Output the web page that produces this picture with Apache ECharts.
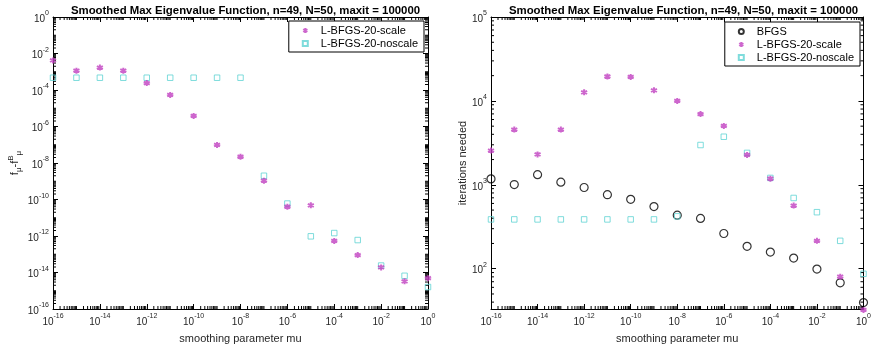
<!DOCTYPE html>
<html>
<head>
<meta charset="utf-8">
<script src="https://cdn.jsdelivr.net/npm/echarts@6/dist/echarts.min.js"></script>
<style>
html,body{margin:0;padding:0;background:#fff;}
#chart{width:874px;height:349px;}
</style>
</head>
<body>
<div id="chart"></div>
<script>
// ---- data ----
const mu = [1e-16,1e-15,1e-14,1e-13,1e-12,1e-11,1e-10,1e-9,1e-8,1e-7,1e-6,1e-5,1e-4,1e-3,1e-2,1e-1,1e0];
// left panel: f_mu - f^B_mu
const errScale = [4.2e-3,1.15e-3,1.7e-3,1.15e-3,2.4e-4,5.4e-5,3.8e-6,9.8e-8,2.2e-8,1.07e-9,4e-11,4.8e-11,5.4e-13,9e-14,1.9e-14,3.3e-15,4.9e-15];
const errNoscale = [4.7e-4,4.7e-4,4.7e-4,4.7e-4,4.7e-4,4.7e-4,4.7e-4,4.7e-4,4.7e-4,2e-9,6e-11,9.6e-13,1.45e-12,6e-13,2.4e-14,6.6e-15,1.6e-15];
// right panel: iterations needed
const itBFGS = [1177,1008,1322,1075,929,762,671,551,435,398,263,185,158,134,99,68,39.5];
const itScale = [2560,4560,2300,4560,12650,19540,19300,13370,10000,6970,5040,2270,1185,566,215,80.5,32.3];
const itNoscale = [387,387,387,387,387,387,387,387,421,2980,3740,2400,1208,697,472,215,87];
// tick labels (exponents of 10)
const xTickExp = [-16,-14,-12,-10,-8,-6,-4,-2,0];
const yLeftTickExp = [-16,-14,-12,-10,-8,-6,-4,-2,0];
const yRightTickExp = [2,3,4,5];

const titleText = 'Smoothed Max Eigenvalue Function, n=49, N=50, maxit = 100000';
const FONT = '"Liberation Sans", Arial, Helvetica, sans-serif';
const MAG = '#c040c0', CYAN = '#5fd3d3';

const lg = v => Math.log10(v);
const pts = arr => arr.map((v, i) => [lg(mu[i]), lg(v)]);

// minor tick positions (decade sub-ticks 2..9 and unlabeled decades)
function minorTicks(lo, hi, majors) {
  const out = [];
  for (let k = Math.floor(lo) - 1; k <= Math.ceil(hi); k++) {
    for (let m = 1; m <= 9; m++) {
      const v = k + Math.log10(m);
      if (v < lo - 1e-9 || v > hi + 1e-9) continue;
      if (majors.some(a => Math.abs(a - v) < 1e-9)) continue;
      out.push(v);
    }
  }
  return out;
}

const rich = {
  b: {fontSize: 10, fontFamily: FONT, color: '#262626', lineHeight: 14, verticalAlign: 'bottom'},
  s: {fontSize: 7, fontFamily: FONT, color: '#262626', lineHeight: 14, verticalAlign: 'top'}
};
const powFmt = v => '{b|10}{s|' + Math.round(v) + '}';

const grids = [
  {left: 53, top: 17, width: 375, height: 296},
  {left: 491, top: 17, width: 375, height: 296}
];

const xAxes = [], yAxes = [];
function addAxes(g, axesArr, isX, min, max, majors, name, nameGap) {
  const base = {gridIndex: g, type: 'value', min: min, max: max, splitLine: {show: false}};
  const line = {show: true, onZero: false, lineStyle: {color: '#000', width: 1}};
  const tick = {show: true, inside: true, length: 5, customValues: majors, lineStyle: {color: '#000'}};
  axesArr.push(Object.assign({}, base, {
    position: isX ? 'bottom' : 'left',
    axisLine: line, axisTick: tick,
    axisLabel: {show: true, customValues: majors, formatter: powFmt, rich: rich, margin: 4},
    name: name, nameLocation: 'middle', nameGap: nameGap,
    nameTextStyle: isX ? {fontFamily: FONT, fontSize: 11, color: '#262626'} :
      {fontFamily: FONT, fontSize: 11, color: '#262626', rich: {
        sub: {fontSize: 8, fontFamily: FONT, color: '#262626', verticalAlign: 'bottom', lineHeight: 16},
        sup: {fontSize: 8, fontFamily: FONT, color: '#262626', verticalAlign: 'top', lineHeight: 16},
        n: {fontSize: 11, fontFamily: FONT, color: '#262626', lineHeight: 16}
      }}
  }));
  axesArr.push(Object.assign({}, base, {
    position: isX ? 'top' : 'right',
    axisLine: line, axisTick: tick, axisLabel: {show: false}
  }));
}
const xMin = lg(mu[0]), xMax = lg(mu[mu.length - 1]);
const yRanges = [[-16, 0], [1.52, 5]];
addAxes(0, xAxes, true, xMin, xMax, xTickExp, 'smoothing parameter mu', 24);
addAxes(0, yAxes, false, yRanges[0][0], yRanges[0][1], yLeftTickExp, '{n|f}{sub|μ}{n|-f}{sup|B}{sub|μ}', 30);
addAxes(1, xAxes, true, xMin, xMax, xTickExp, 'smoothing parameter mu', 24);
addAxes(1, yAxes, false, yRanges[1][0], yRanges[1][1], yRightTickExp, 'iterations needed', 22);

// minor ticks, positioned through each grid's axes
function minorTickSeries(g, xMajors, yMajors) {
  const yr = yRanges[g];
  const data = minorTicks(xMin, xMax, xMajors).map(v => [v, 0])
    .concat(minorTicks(yr[0], yr[1], yMajors).map(v => [v, 1]));
  return {
    type: 'custom', xAxisIndex: g * 2, yAxisIndex: g * 2, silent: true, clip: false, z: 1,
    data: data,
    renderItem: function (params, api) {
      const v = api.value(0), o = api.value(1);
      const st = {stroke: '#000', lineWidth: 1};
      let a, b;
      if (o === 0) {
        a = api.coord([v, yr[0]]); b = api.coord([v, yr[1]]);
        return {type: 'group', children: [
          {type: 'line', shape: {x1: a[0], y1: a[1], x2: a[0], y2: a[1] - 3}, style: st},
          {type: 'line', shape: {x1: b[0], y1: b[1], x2: b[0], y2: b[1] + 3}, style: st}
        ]};
      }
      a = api.coord([xMin, v]); b = api.coord([xMax, v]);
      return {type: 'group', children: [
        {type: 'line', shape: {x1: a[0], y1: a[1], x2: a[0] + 3, y2: a[1]}, style: st},
        {type: 'line', shape: {x1: b[0], y1: b[1], x2: b[0] - 3, y2: b[1]}, style: st}
      ]};
    }
  };
}

const asterisk = 'path://M0,-10L0,10M-8.66,-5L8.66,5M-8.66,5L8.66,-5';
const sStar = {symbol: asterisk, symbolSize: 6, itemStyle: {color: MAG, borderColor: MAG, borderWidth: 2}};
const sSq = {symbol: 'rect', symbolSize: 5.5, itemStyle: {color: 'rgba(255,255,255,0)', borderColor: CYAN, borderWidth: 1}};
const sCirc = {symbol: 'circle', symbolSize: 8, itemStyle: {color: 'rgba(255,255,255,0)', borderColor: '#000', borderWidth: 1.2}};

const series = [
  minorTickSeries(0, xTickExp, yLeftTickExp),
  minorTickSeries(1, xTickExp, yRightTickExp),
  Object.assign({type: 'scatter', name: 'L-BFGS-20-scale', xAxisIndex: 0, yAxisIndex: 0, data: pts(errScale), clip: false, z: 3}, sStar),
  Object.assign({type: 'scatter', name: 'L-BFGS-20-noscale', xAxisIndex: 0, yAxisIndex: 0, data: pts(errNoscale), clip: false, z: 2}, sSq),
  Object.assign({type: 'scatter', name: 'BFGS', xAxisIndex: 2, yAxisIndex: 2, data: pts(itBFGS), clip: false, z: 2}, sCirc),
  Object.assign({type: 'scatter', name: 'L-BFGS-20-scale', xAxisIndex: 2, yAxisIndex: 2, data: pts(itScale), clip: false, z: 3}, sStar),
  Object.assign({type: 'scatter', name: 'L-BFGS-20-noscale', xAxisIndex: 2, yAxisIndex: 2, data: pts(itNoscale), clip: false, z: 2}, sSq)
];

const legendBase = {
  orient: 'vertical', backgroundColor: '#fff', borderColor: '#000', borderWidth: 1,
  padding: [3, 6, 2, 13], itemGap: 0, itemWidth: 5, itemHeight: 5,
  textStyle: {fontFamily: FONT, fontSize: 11, color: '#000', lineHeight: 13, padding: [0, 0, 0, 8]},
  selectedMode: false, z: 10
};

const option = {
  animation: false,
  backgroundColor: '#fff',
  title: [
    {text: titleText, left: 240.5, top: 0, textAlign: 'center',
     textStyle: {fontFamily: FONT, fontSize: 11.4, fontWeight: 'bold', color: '#000'}},
    {text: titleText, left: 678.5, top: 0, textAlign: 'center',
     textStyle: {fontFamily: FONT, fontSize: 11.4, fontWeight: 'bold', color: '#000'}}
  ],
  grid: grids,
  xAxis: xAxes,
  yAxis: yAxes,
  legend: [
    Object.assign({}, legendBase, {right: 450, top: 21, data: ['L-BFGS-20-scale', 'L-BFGS-20-noscale']}),
    Object.assign({}, legendBase, {right: 14, top: 22, data: ['BFGS', 'L-BFGS-20-scale', 'L-BFGS-20-noscale']})
  ],
  series: series
};
const chart = echarts.init(document.getElementById('chart'), null, {renderer: 'canvas'});
chart.setOption(option);
</script>
</body>
</html>
